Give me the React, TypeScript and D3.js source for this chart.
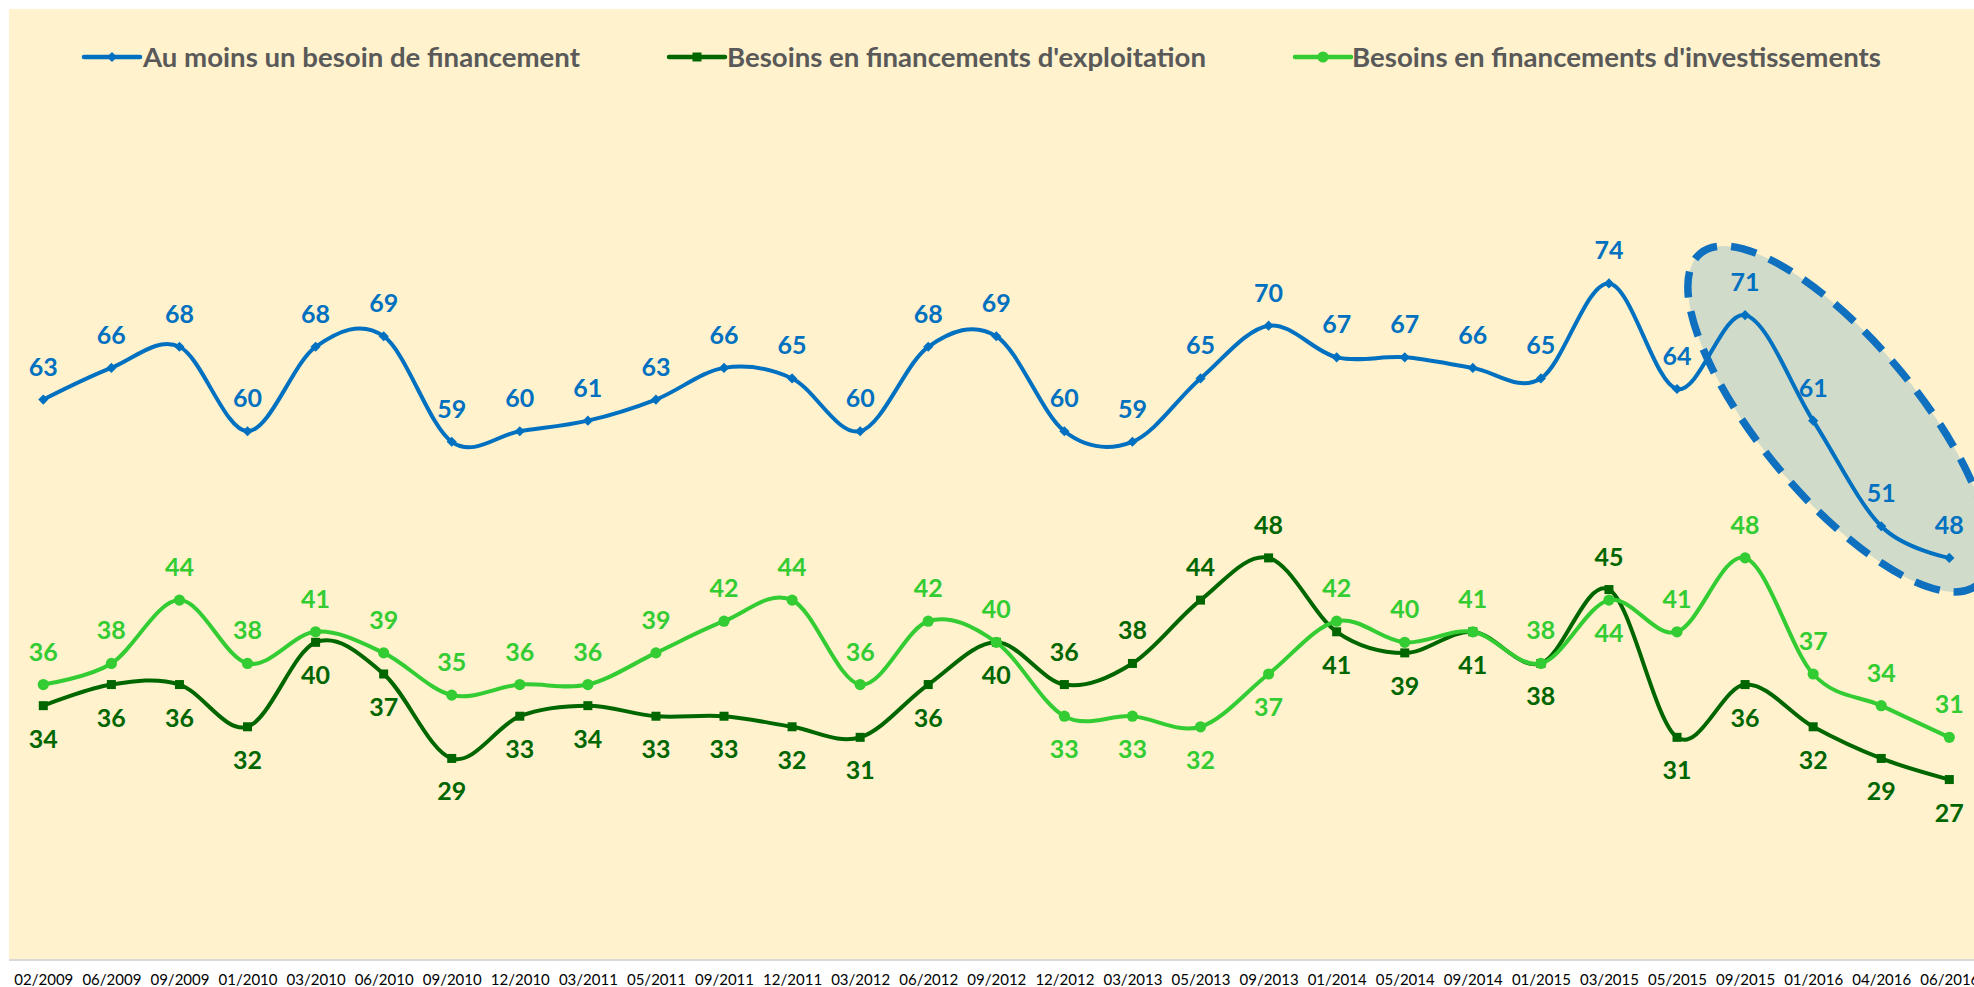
import React, { useEffect, useRef } from "react";
import * as d3 from "d3";

// survey waves
const categories = [
  "02/2009", "06/2009", "09/2009", "01/2010", "03/2010", "06/2010", "09/2010", "12/2010",
  "03/2011", "05/2011", "09/2011", "12/2011", "03/2012", "06/2012", "09/2012", "12/2012",
  "03/2013", "05/2013", "09/2013", "01/2014", "05/2014", "09/2014", "01/2015", "03/2015",
  "05/2015", "09/2015", "01/2016", "04/2016", "06/2016",
];

const auMoinsUn = [
  63, 66, 68, 60, 68, 69, 59, 60, 61, 63, 66, 65, 60, 68, 69, 60, 59, 65, 70, 67, 67, 66, 65, 74,
  64, 71, 61, 51, 48,
];
const exploitation = [
  34, 36, 36, 32, 40, 37, 29, 33, 34, 33, 33, 32, 31, 36, 40, 36, 38, 44, 48, 41, 39, 41, 38, 45,
  31, 36, 32, 29, 27,
];
const investissements = [
  36, 38, 44, 38, 41, 39, 35, 36, 36, 39, 42, 44, 36, 42, 40, 33, 33, 32, 37, 42, 40, 41, 38, 44,
  41, 48, 37, 34, 31,
];

const seriesNames = [
  "Au moins un besoin de financement",
  "Besoins en financements d'exploitation",
  "Besoins en financements d'investissements",
];

const W = 1974;
const H = 987;
const FONT = "Lato, 'Open Sans', sans-serif";

const App = () => {
  const svgRef = useRef<SVGSVGElement>(null);

  useEffect(() => {
    const svg = d3.select(svgRef.current);
    svg.selectAll("*").remove();

    const x = d3.scalePoint<string>().domain(categories).range([43.3, 1949.3]);
    const y = d3.scaleLinear().domain([10, 100]).range([959, 9]);

    const series = [
      { name: seriesNames[0], values: auMoinsUn, color: "#0070C0", marker: "diamond" },
      { name: seriesNames[1], values: exploitation, color: "#006600", marker: "square" },
      { name: seriesNames[2], values: investissements, color: "#33CC33", marker: "circle" },
    ];

    // plot area background
    svg
      .append("rect")
      .attr("x", 9)
      .attr("y", 9)
      .attr("width", W - 9)
      .attr("height", 950)
      .attr("fill", "#FFF2CC");

    svg
      .append("line")
      .attr("x1", 9)
      .attr("x2", W)
      .attr("y1", 960)
      .attr("y2", 960)
      .attr("stroke", "#D9D9D9")
      .attr("stroke-width", 2);

    const xAxis = svg
      .append("g")
      .attr("transform", "translate(0,959)")
      .call(d3.axisBottom(x).tickSize(0).tickPadding(15));
    xAxis.select(".domain").remove();
    xAxis
      .selectAll("text")
      .attr("fill", "#000")
      .style("font-family", FONT)
      .style("font-size", "15px");

    // highlight ellipse (fill under the lines)
    const ell = { cx: 1839, cy: 419, rx: 216, ry: 78, rot: 50 };
    svg
      .append("ellipse")
      .attr("cx", ell.cx)
      .attr("cy", ell.cy)
      .attr("rx", ell.rx)
      .attr("ry", ell.ry)
      .attr("transform", `rotate(${ell.rot} ${ell.cx} ${ell.cy})`)
      .attr("fill", "#D1DBC9");

    const line = d3
      .line<number>()
      .x((d, i) => x(categories[i]) as number)
      .y((d) => y(d))
      .curve(d3.curveCatmullRom.alpha(0));

    const drawMarker = (g, type, color, cx, cy) => {
      if (type === "diamond") {
        g.append("rect")
          .attr("x", cx - 3.6)
          .attr("y", cy - 3.6)
          .attr("width", 7.2)
          .attr("height", 7.2)
          .attr("transform", `rotate(45 ${cx} ${cy})`)
          .attr("fill", color);
      } else if (type === "square") {
        g.append("rect")
          .attr("x", cx - 4.5)
          .attr("y", cy - 4.5)
          .attr("width", 9)
          .attr("height", 9)
          .attr("fill", color);
      } else {
        g.append("circle").attr("cx", cx).attr("cy", cy).attr("r", 5.6).attr("fill", color);
      }
    };

    series.forEach((s) => {
      const g = svg.append("g");
      g.append("path")
        .attr("d", line(s.values))
        .attr("fill", "none")
        .attr("stroke", s.color)
        .attr("stroke-width", 4)
        .attr("stroke-linecap", "round");
      s.values.forEach((v, i) => drawMarker(g, s.marker, s.color, x(categories[i]), y(v)));
    });

    // dashed outline of the ellipse
    svg
      .append("ellipse")
      .attr("cx", ell.cx)
      .attr("cy", ell.cy)
      .attr("rx", ell.rx)
      .attr("ry", ell.ry)
      .attr("transform", `rotate(${ell.rot} ${ell.cx} ${ell.cy})`)
      .attr("fill", "none")
      .attr("stroke", "#0F70BF")
      .attr("stroke-width", 7.5)
      .attr("stroke-dasharray", "26 14");

    // data labels: the higher of the two green series gets its label above
    const labels = svg
      .append("g")
      .style("font-family", FONT)
      .style("font-size", "25px")
      .style("font-weight", "bold")
      .attr("text-anchor", "middle");

    series.forEach((s, si) => {
      s.values.forEach((v, i) => {
        let above = true;
        if (si === 1) above = v > investissements[i];
        if (si === 2) above = v >= exploitation[i];
        labels
          .append("text")
          .attr("x", x(categories[i]) as number)
          .attr("y", y(v) + (above ? -24 : 42))
          .attr("fill", s.color)
          .text(v);
      });
    });

    // legend
    const legendItems = [
      { lineX: 84, textX: 143, textW: 437 },
      { lineX: 669, textX: 727, textW: 479 },
      { lineX: 1295, textX: 1352, textW: 529 },
    ];
    const legend = svg.append("g");
    legendItems.forEach((it, i) => {
      const s = series[i];
      legend
        .append("line")
        .attr("x1", it.lineX)
        .attr("x2", it.lineX + 56)
        .attr("y1", 57)
        .attr("y2", 57)
        .attr("stroke", s.color)
        .attr("stroke-width", 4.5)
        .attr("stroke-linecap", "round");
      drawMarker(legend, s.marker, s.color, it.lineX + 28, 57);
      legend
        .append("text")
        .attr("x", it.textX)
        .attr("y", 67)
        .attr("textLength", it.textW)
        .attr("lengthAdjust", "spacingAndGlyphs")
        .attr("fill", "#595959")
        .style("font-family", FONT)
        .style("font-size", "27px")
        .style("font-weight", "bold")
        .text(s.name);
    });
  }, []);

  return (
    <svg
      ref={svgRef}
      width={W}
      height={H}
      style={{ position: "absolute", left: 0, top: 0, display: "block", background: "#fff" }}
    ></svg>
  );
};

export default App;
